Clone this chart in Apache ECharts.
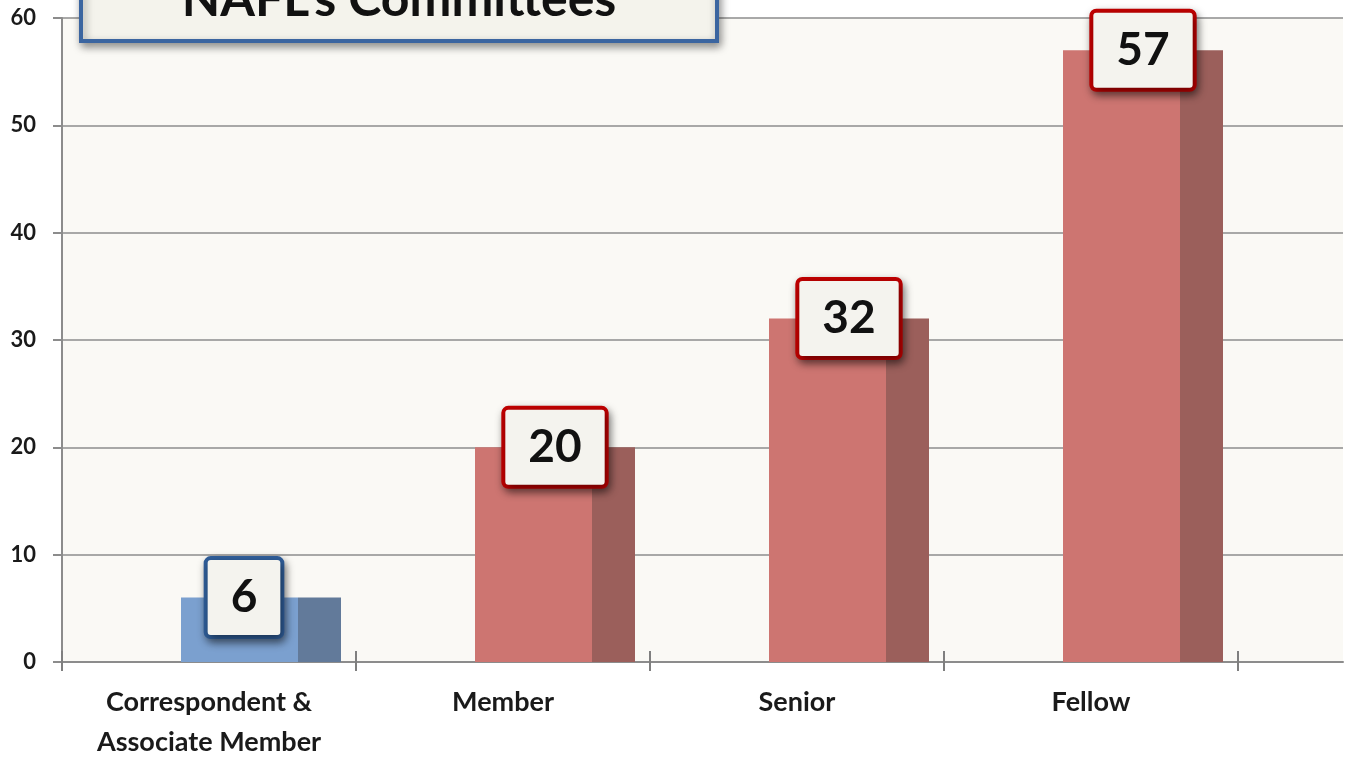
<!DOCTYPE html>
<html>
<head>
<meta charset="utf-8">
<script src="https://cdn.jsdelivr.net/npm/echarts@6/dist/echarts.min.js"></script>
<style>
    html, body { margin: 0; padding: 0; background: #ffffff; }
    #main { width: 1350px; height: 757px; }
</style>
</head>
<body>
<div id="main"></div>
<script>
// 数据
const categories = ['Correspondent &\nAssociate Member', 'Member', 'Senior', 'Fellow']
const counts = [6, 20, 32, 57]
const yTicks = [0, 10, 20, 30, 40, 50, 60]
const titleText = "NAFL's Committees"

// colours: first group blue, the rest red
const frontColors = ['#7ba0cf', '#cd7571']
const sideColors = ['#627a9a', '#9b5f5b']
const boxBorders = ['#2f5d98', '#c00000']

const pick = (arr, i) => (i === 0 ? arr[0] : arr[1])

const chart = echarts.init(document.getElementById('main'))

const gridLine = '#8c8c8c'
const font = 'Lato, "Open Sans", sans-serif'

const frontData = counts.map((v, i) => ({
    value: v,
    itemStyle: { color: pick(frontColors, i) },
    label: {
        borderColor: pick(boxBorders, i),
        position: i === 0 ? [63, 0] : [80, 0]
    }
}))
const sideData = counts.map((v, i) => ({
    value: v,
    itemStyle: { color: pick(sideColors, i) }
}))

const yBase = {
    type: 'value',
    min: yTicks[0],
    max: yTicks[yTicks.length - 1],
    interval: 10
}

// 不让网格因标签而收缩
const gridBase = { top: 18, bottom: 95, outerBoundsMode: 'none', containLabel: false }

const option = {
    backgroundColor: '#ffffff',
    animation: false,
    grid: [
        // frame with gridlines
        { ...gridBase, left: 62, right: 7, show: true, backgroundColor: '#faf9f5', borderWidth: 0 },
        // category ticks and labels
        { ...gridBase, left: 62, width: 1176 },
        // bars (shifted like the 3D perspective)
        { ...gridBase, left: 114, width: 1176 }
    ],
    xAxis: [
        {
            gridIndex: 0, type: 'value', min: 0, max: 1, position: 'bottom',
            axisLine: { show: true, lineStyle: { color: gridLine, width: 2 } },
            axisTick: { show: false }, axisLabel: { show: false }, splitLine: { show: false }
        },
        {
            gridIndex: 1, type: 'category', data: categories, position: 'bottom',
            axisLine: { show: false },
            axisTick: { show: true, length: 9, lineStyle: { color: '#7f7f7f', width: 2 } },
            axisLabel: {
                margin: 20, fontSize: 27, fontWeight: 'bold', fontFamily: font,
                color: '#1a1a1a', lineHeight: 40
            },
            splitLine: { show: false }
        },
        {
            gridIndex: 1, type: 'category', data: categories, position: 'bottom',
            axisLine: { show: false },
            axisTick: { show: true, inside: true, length: 11, lineStyle: { color: '#7f7f7f', width: 2 } },
            axisLabel: { show: false }, splitLine: { show: false }
        },
        {
            gridIndex: 2, type: 'category', data: categories, show: false
        }
    ],
    yAxis: [
        {
            ...yBase, gridIndex: 0,
            axisLine: { show: true, lineStyle: { color: gridLine, width: 2 } },
            axisTick: { show: true, length: 9, lineStyle: { color: gridLine, width: 2 } },
            axisLabel: {
                margin: 26, fontSize: 22, fontWeight: 'bold', fontFamily: font, color: '#1a1a1a'
            },
            splitLine: { show: true, lineStyle: { color: gridLine, width: 1.5 } }
        },
        { ...yBase, gridIndex: 1, show: false },
        { ...yBase, gridIndex: 2, show: false }
    ],
    series: [
        {
            name: 'front',
            type: 'bar',
            xAxisIndex: 3,
            yAxisIndex: 2,
            barWidth: 117,
            barGap: '0%',
            z: 4,
            data: frontData,
            label: {
                show: true,
                align: 'center',
                verticalAlign: 'middle',
                fontSize: 46,
                fontWeight: 'bold',
                fontFamily: font,
                color: '#111111',
                lineHeight: 50,
                backgroundColor: '#f4f3ee',
                borderWidth: 4,
                borderRadius: 3,
                padding: [13, 23, 12, 23],
                shadowBlur: 8,
                shadowColor: 'rgba(0,0,0,0.45)',
                shadowOffsetX: 2,
                shadowOffsetY: 4
            }
        },
        {
            name: 'side',
            type: 'bar',
            xAxisIndex: 3,
            yAxisIndex: 2,
            barWidth: 43,
            barGap: '0%',
            z: 2,
            data: sideData
        }
    ],
    graphic: [
        {
            type: 'group',
            left: 0,
            top: 0,
            bounding: 'raw',
            children: [
                {
                    type: 'rect',
                    shape: { x: 81, y: -40, width: 636, height: 81 },
                    style: {
                        fill: '#f4f3ec',
                        stroke: '#3b65a0',
                        lineWidth: 4,
                        shadowBlur: 8,
                        shadowOffsetX: 2,
                        shadowOffsetY: 4,
                        shadowColor: 'rgba(0,0,0,0.4)'
                    },
                    z: 20
                },
                {
                    type: 'text',
                    x: 399,
                    y: 25,
                    z: 21,
                    style: {
                        text: titleText,
                        fontSize: 50,
                        fontWeight: 'bold',
                        fontFamily: font,
                        fill: '#111111',
                        align: 'center',
                        verticalAlign: 'bottom'
                    }
                }
            ]
        }
    ]
}

chart.setOption(option)
window.addEventListener('resize', () => {
    chart.resize()
})
</script>
</body>
</html>
